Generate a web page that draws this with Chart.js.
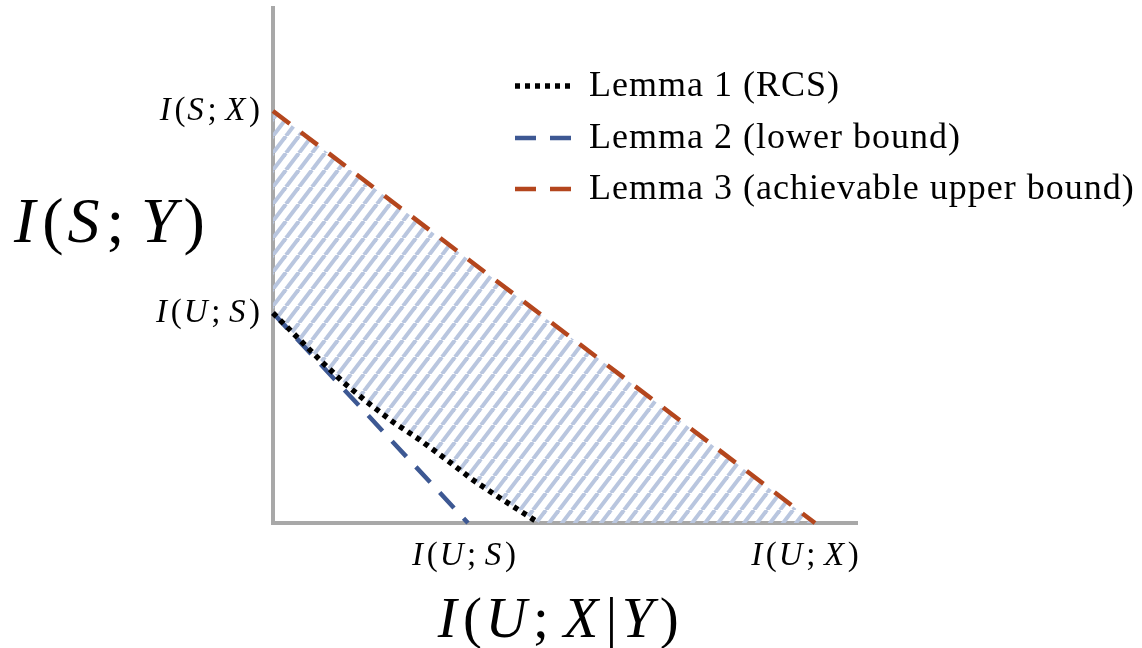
<!DOCTYPE html>
<html>
<head>
<meta charset="utf-8">
<script src="https://cdn.jsdelivr.net/npm/chart.js@4.4.1/dist/chart.umd.min.js"></script>
<style>
  html, body { margin: 0; padding: 0; background: #ffffff; }
  #wrap { width: 1142px; height: 648px; position: relative; }
</style>
</head>
<body>
<div id="wrap"><canvas id="c" width="1142" height="648"></canvas></div>
<script>
// ---- data (arbitrary units) ----
const lemma1X = [0, 0.24, 0.47, 0.70, 0.94, 1.20, 1.47, 1.74, 2.00, 2.27, 2.66];
const lemma1Y = [2.10, 1.86, 1.63, 1.41, 1.21, 1.01, 0.83, 0.63, 0.43, 0.25, 0];
const lemma2X = [0, 1.95];
const lemma2Y = [2.10, 0];
const lemma3X = [0, 5.42];
const lemma3Y = [4.12, 0];
const seriesLabels = ['Lemma 1 (RCS)', 'Lemma 2 (lower bound)', 'Lemma 3 (achievable upper bound)'];
const xTickValues = [1.92, 5.33];
const xTickLabels = ['I(U; S)', 'I(U; X)'];
const yTickValues = [4.12, 2.10];
const yTickLabels = ['I(S; X)', 'I(U; S)'];
const xAxisTitle = 'I(U; X|Y)';
const yAxisTitle = 'I(S; Y)';
const xMax = 5.84, yMax = 5.15;

const toPts = (xs, ys) => xs.map((x, i) => ({ x: x, y: ys[i] }));
// lower boundary of the achievable region: Lemma 1 curve then the x axis up to Lemma 3's end
const boundaryPts = toPts(lemma1X, lemma1Y).concat([{ x: lemma3X[lemma3X.length - 1], y: 0 }]);

// ---- hatch pattern ----
function makeHatch() {
  const w = 13, h = 17;
  const c = document.createElement('canvas');
  c.width = w; c.height = h;
  const g = c.getContext('2d');
  g.strokeStyle = '#b9c6df';
  g.lineWidth = 4;
  for (const off of [-w, 0, w]) {
    g.beginPath();
    g.moveTo(off, h);
    g.lineTo(off + w, 0);
    g.stroke();
  }
  return g.createPattern(c, 'repeat');
}

// ---- math-like text: letters italic, symbols upright ----
function drawMath(ctx, text, x, y, size, align) {
  const parts = [...text].map(ch => ({ ch: ch, it: /[A-Za-z]/.test(ch) }));
  let total = 0;
  parts.forEach(p => {
    ctx.font = (p.it ? 'italic ' : '') + size + 'px "Liberation Serif"';
    p.w = ctx.measureText(p.ch).width + size * 0.06;
    if (p.it) p.w += size * 0.05;
    if (p.ch === ' ') p.w = size * 0.2;
    if (p.ch === '|') p.w += size * 0.04;
    total += p.w;
  });
  let cx = align === 'right' ? x - total : align === 'center' ? x - total / 2 : x;
  ctx.textBaseline = 'alphabetic';
  ctx.textAlign = 'left';
  parts.forEach(p => {
    ctx.font = (p.it ? 'italic ' : '') + size + 'px "Liberation Serif"';
    ctx.fillText(p.ch, cx + (p.ch === '|' ? size * 0.02 : 0), y);
    cx += p.w;
  });
}

const labelsPlugin = {
  id: 'mathLabels',
  afterDraw(chart) {
    const ctx = chart.ctx;
    const xs = chart.scales.x, ys = chart.scales.y;
    ctx.save();
    ctx.fillStyle = '#000000';
    xTickValues.forEach((v, i) => drawMath(ctx, xTickLabels[i], xs.getPixelForValue(v), 565, 33, 'center'));
    yTickValues.forEach((v, i) => drawMath(ctx, yTickLabels[i], 262, ys.getPixelForValue(v) + 9, 33, 'right'));
    drawMath(ctx, xAxisTitle, 560, 637, 57, 'center');
    drawMath(ctx, yAxisTitle, 14, 242, 64, 'left');
    // legend
    const rows = [86, 138, 189];
    chart.data.datasets.forEach((ds, i) => {
      if (!ds.label) return;
      const y = rows[i];
      ctx.save();
      ctx.strokeStyle = ds.borderColor;
      ctx.lineWidth = ds.borderWidth;
      ctx.setLineDash(ds.borderDash || []);
      ctx.lineCap = 'butt';
      ctx.beginPath();
      ctx.moveTo(515, y);
      ctx.lineTo(573, y);
      ctx.stroke();
      ctx.restore();
      ctx.save();
      ctx.font = '36px "Liberation Serif"';
      ctx.letterSpacing = '1px';
      ctx.textBaseline = 'middle';
      ctx.textAlign = 'left';
      ctx.fillStyle = '#000000';
      ctx.fillText(ds.label, 589, y + 1);
      ctx.restore();
    });
    ctx.restore();
  }
};

const ctx = document.getElementById('c').getContext('2d');
new Chart(ctx, {
  type: 'scatter',
  data: {
    datasets: [
      {
        label: seriesLabels[0],
        data: toPts(lemma1X, lemma1Y),
        showLine: true, pointRadius: 0, borderColor: '#000000', borderWidth: 5.5,
        borderDash: [5, 5], borderCapStyle: 'butt', fill: false, clip: false, tension: 0
      },
      {
        label: seriesLabels[1],
        data: toPts(lemma2X, lemma2Y),
        showLine: true, pointRadius: 0, borderColor: '#3d5893', borderWidth: 4.5,
        borderDash: [21, 14], borderCapStyle: 'butt', fill: false, clip: false
      },
      {
        label: seriesLabels[2],
        data: toPts(lemma3X, lemma3Y),
        showLine: true, pointRadius: 0, borderColor: '#b4461d', borderWidth: 4.5,
        borderDash: [21, 14], borderCapStyle: 'butt', clip: false,
        fill: { target: 3 }, backgroundColor: makeHatch()
      },
      {
        label: '',
        data: boundaryPts,
        showLine: true, pointRadius: 0, borderWidth: 0, borderColor: 'rgba(0,0,0,0)',
        fill: false, clip: false
      }
    ]
  },
  options: {
    responsive: false,
    animation: false,
    events: [],
    layout: { padding: { left: 273, right: 285, top: 8, bottom: 125 } },
    plugins: {
      legend: { display: false },
      tooltip: { enabled: false },
      filler: { drawTime: 'beforeDatasetsDraw' }
    },
    scales: {
      x: {
        type: 'linear', min: 0, max: xMax,
        grid: { display: false, drawTicks: false },
        border: { display: true, color: '#a8a8a8', width: 4 },
        ticks: { display: false },
        afterFit: s => { s.height = 0; }
      },
      y: {
        type: 'linear', min: 0, max: yMax,
        grid: { display: false, drawTicks: false },
        border: { display: true, color: '#a8a8a8', width: 4 },
        ticks: { display: false },
        afterFit: s => { s.width = 0; }
      }
    }
  },
  plugins: [labelsPlugin]
});
</script>
</body>
</html>
